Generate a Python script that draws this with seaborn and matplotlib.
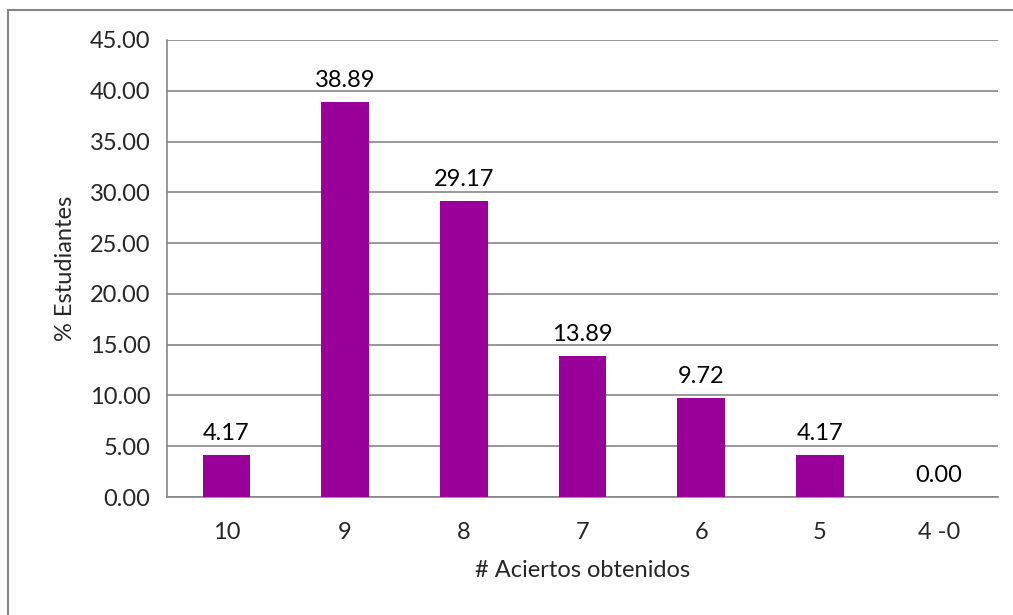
import matplotlib
matplotlib.use("Agg")
import matplotlib.pyplot as plt
import seaborn as sns
import pandas as pd
import numpy as np
from matplotlib.patches import Rectangle

categories = ["10", "9", "8", "7", "6", "5", "4 -0"]
values = [4.17, 38.89, 29.17, 13.89, 9.72, 4.17, 0.00]
y_ticks = [0, 5, 10, 15, 20, 25, 30, 35, 40, 45]

sns.set_theme(style="white")
plt.rcParams['font.family'] = ['Lato', 'DejaVu Sans']

df = pd.DataFrame({"cat": categories, "val": values})

fig = plt.figure(figsize=(10.13, 6.15), dpi=100)
W, H = 1013, 615
ax = fig.add_axes([167 / W, 1 - 497 / H, (998 - 167) / W, (497 - 40) / H])

grid_c = "#868686"
fs = 17
sns.barplot(data=df, x="cat", y="val", color="#990099", width=0.4,
            saturation=1, ax=ax, zorder=3, linewidth=0)

ax.set_ylim(0, 45)
ax.set_xlim(-0.5, len(categories) - 0.5)
ax.set_yticks(y_ticks)
ax.set_yticklabels([f"{v:.2f}" for v in y_ticks], fontsize=fs)
ax.yaxis.grid(True, color=grid_c, linewidth=1.2, zorder=0)
ax.set_axisbelow(True)

# x ticks at category boundaries, labels at centers
ax.set_xticks(np.arange(len(categories)))
ax.set_xticklabels(categories, fontsize=fs)
ax.tick_params(axis="x", which="major", length=0, pad=18)
ax.set_xticks(np.arange(len(categories) + 1) - 0.5, minor=True)
ax.tick_params(axis="x", which="minor", length=6, width=1.2, color=grid_c, direction="out")
ax.tick_params(axis="y", length=6, width=1.2, color=grid_c, direction="out", pad=6)

for s in ["top", "right"]:
    ax.spines[s].set_visible(False)
for s in ["left", "bottom"]:
    ax.spines[s].set_color(grid_c)
    ax.spines[s].set_linewidth(1.2)

for i, v in enumerate(values):
    ax.annotate(f"{v:.2f}", (i, v), xytext=(0, 8), textcoords="offset points",
                ha="center", va="bottom", fontsize=fs, color="black")

ax.set_xlabel("# Aciertos obtenidos", fontsize=fs, labelpad=12)
ax.set_ylabel("% Estudiantes", fontsize=fs, labelpad=10)

fig.patches.append(Rectangle((8 / W, -0.01), 1.02, 1 - 10 / H + 0.01,
                             transform=fig.transFigure, fill=False,
                             edgecolor=grid_c, linewidth=1.5))

fig.savefig("out.png", dpi=100)
